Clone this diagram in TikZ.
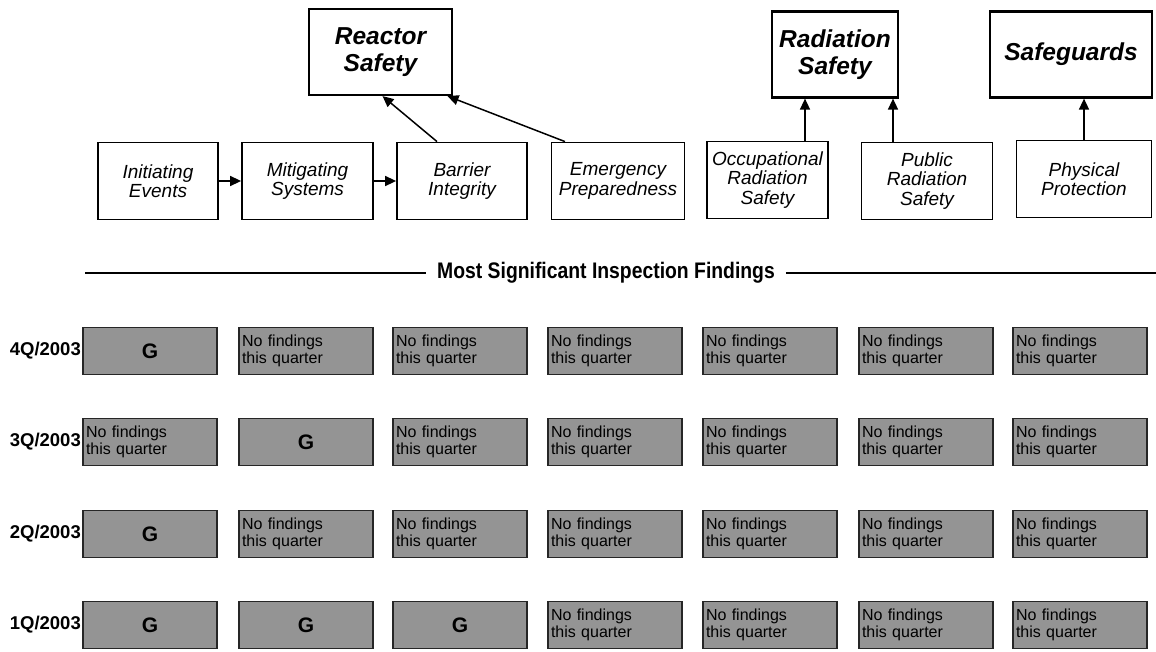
\documentclass[tikz,border=0pt]{standalone}
\usepackage{fontspec}
\setmainfont{Liberation Sans}
\newfontfamily\condfont[FakeStretch=0.86]{Liberation Sans}
\usetikzlibrary{arrows.meta, positioning, calc}

\begin{document}
\begin{tikzpicture}[x=1pt, y=-1pt, % pixel grid, y pointing down
    area/.style={draw, line width=2.2pt, minimum height=86pt, inner sep=0pt, align=center,
        font=\fontsize{24.5}{27}\selectfont\bfseries\itshape},
    cornerstone/.style={draw, line width=1.8pt, minimum height=77pt, inner sep=0pt, align=center,
        font=\fontsize{19}{19.5}\selectfont\itshape},
    feed/.style={-{Triangle[length=11pt, width=10pt]}, line width=1.5pt},
    finding/.style={draw=black!85, line width=1.2pt, fill=black!42, minimum height=47pt,
        text width=128pt, inner xsep=3pt, inner ysep=0pt, align=left,
        font=\fontsize{16}{17}\selectfont},
    green/.style={finding, align=center, font=\fontsize{21}{21}\selectfont\bfseries},
    quarter/.style={anchor=east, inner sep=0pt, font=\fontsize{18.5}{18.5}\selectfont\bfseries},
    rule/.style={line width=2pt}
]
\useasboundingbox (0,0) rectangle (1156,651);

% strategic performance areas
\node[area, minimum width=143pt] (reactor) at (380.5,52) {Reactor\\Safety};
\node[area, minimum width=126pt] (radsafe) at (835,54.5) {Radiation\\Safety};
\node[area, minimum width=162pt] (safeg) at (1071,54.5) {Safeguards};

% cornerstones
\node[cornerstone, minimum width=120pt] (init) at (158,181) {Initiating\\Events};
\node[cornerstone, minimum width=131pt] (mitig) at (307.5,181) {Mitigating\\Systems};
\node[cornerstone, minimum width=130pt] (barr) at (462,181) {Barrier\\Integrity};
\node[cornerstone, minimum width=133pt] (emerg) at (618,181) {Emergency\\Preparedness};
\node[cornerstone, minimum width=121pt] (occup) at (767.5,180) {Occupational\\Radiation\\Safety};
\node[cornerstone, minimum width=131pt] (pub) at (927,181) {Public\\Radiation\\Safety};
\node[cornerstone, minimum width=135pt] (phys) at (1084,179) {Physical\\Protection};

\draw[feed] (init) -- (mitig);
\draw[feed] (mitig) -- (barr);
\draw[feed] ([xshift=-25pt]barr.north) -- ([xshift=2pt]reactor.south);
\draw[feed] ([xshift=-53pt]emerg.north) -- ([xshift=67pt]reactor.south);
\draw[feed] ([xshift=37.5pt]occup.north) -- ([xshift=37.5pt]occup.north |- radsafe.south);
\draw[feed] ([xshift=-34pt]pub.north) -- ([xshift=-34pt]pub.north |- radsafe.south);
\draw[feed] (phys.north) -- (phys.north |- safeg.south);

% heading rule
\node[inner xsep=11pt, font=\fontsize{22.5}{22.5}\selectfont\condfont\bfseries] (title) at (606,273)
    {Most Significant Inspection Findings};
\coordinate (ruleL) at (85,273);
\coordinate (ruleR) at (1156,273);
\draw[rule] (ruleL) -- (title.west);
\draw[rule] (title.east) -- (ruleR);

% 4Q/2003
\node[quarter] (q4) at (81,351) {4Q/2003};
\node[green] (f41) at (150,351) {G};
\node[finding] (f42) at (306,351) {No findings\\this quarter};
\node[finding] (f43) at (460,351) {No findings\\this quarter};
\node[finding] (f44) at (615,351) {No findings\\this quarter};
\node[finding] (f45) at (770,351) {No findings\\this quarter};
\node[finding] (f46) at (926,351) {No findings\\this quarter};
\node[finding] (f47) at (1080,351) {No findings\\this quarter};

% 3Q/2003
\node[quarter] (q3) at (81,442) {3Q/2003};
\node[finding] (f31) at (150,442) {No findings\\this quarter};
\node[green] (f32) at (306,442) {G};
\node[finding] (f33) at (460,442) {No findings\\this quarter};
\node[finding] (f34) at (615,442) {No findings\\this quarter};
\node[finding] (f35) at (770,442) {No findings\\this quarter};
\node[finding] (f36) at (926,442) {No findings\\this quarter};
\node[finding] (f37) at (1080,442) {No findings\\this quarter};

% 2Q/2003
\node[quarter] (q2) at (81,534) {2Q/2003};
\node[green] (f21) at (150,534) {G};
\node[finding] (f22) at (306,534) {No findings\\this quarter};
\node[finding] (f23) at (460,534) {No findings\\this quarter};
\node[finding] (f24) at (615,534) {No findings\\this quarter};
\node[finding] (f25) at (770,534) {No findings\\this quarter};
\node[finding] (f26) at (926,534) {No findings\\this quarter};
\node[finding] (f27) at (1080,534) {No findings\\this quarter};

% 1Q/2003
\node[quarter] (q1) at (81,625) {1Q/2003};
\node[green] (f11) at (150,625) {G};
\node[green] (f12) at (306,625) {G};
\node[green] (f13) at (460,625) {G};
\node[finding] (f14) at (615,625) {No findings\\this quarter};
\node[finding] (f15) at (770,625) {No findings\\this quarter};
\node[finding] (f16) at (926,625) {No findings\\this quarter};
\node[finding] (f17) at (1080,625) {No findings\\this quarter};
\end{tikzpicture}
\end{document}
